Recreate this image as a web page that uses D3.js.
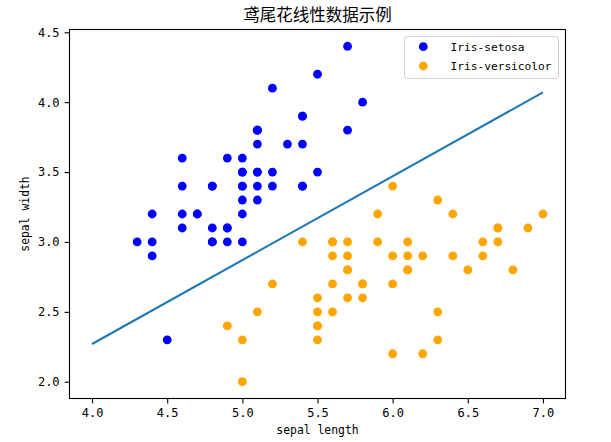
<!DOCTYPE html>
<html>
<head>
<meta charset="utf-8">
<script src="https://cdn.jsdelivr.net/npm/d3@7"></script>
<style>
  html, body { margin: 0; padding: 0; background: #fff; }
  svg { display: block; }
  .mono { font-family: "DejaVu Sans Mono", "Liberation Mono", monospace; }
</style>
</head>
<body>
<svg id="chart" width="611" height="442"></svg>
<script>
const title = '鸢尾花线性数据示例';
const xLabel = 'sepal length';
const yLabel = 'sepal width';
const seriesNames = ['Iris-setosa', 'Iris-versicolor'];
const seriesColors = ['blue', 'orange'];

const setosaX = [5.1,4.9,4.7,4.6,5.0,5.4,4.6,5.0,4.4,4.9,5.4,4.8,4.8,4.3,5.8,5.7,5.4,5.1,5.7,5.1,
                 5.4,5.1,4.6,5.1,4.8,5.0,5.0,5.2,5.2,4.7,4.8,5.4,5.2,5.5,4.9,5.0,5.5,4.9,4.4,5.1,
                 5.0,4.5,4.4,5.0,5.1,4.8,5.1,4.6,5.3,5.0];
const setosaY = [3.5,3.0,3.2,3.1,3.6,3.9,3.4,3.4,2.9,3.1,3.7,3.4,3.0,3.0,4.0,4.4,3.9,3.5,3.8,3.8,
                 3.4,3.7,3.6,3.3,3.4,3.0,3.4,3.5,3.4,3.2,3.1,3.4,4.1,4.2,3.1,3.2,3.5,3.6,3.0,3.4,
                 3.5,2.3,3.2,3.5,3.8,3.0,3.8,3.2,3.7,3.3];
const versicolorX = [7.0,6.4,6.9,5.5,6.5,5.7,6.3,4.9,6.6,5.2,5.0,5.9,6.0,6.1,5.6,6.7,5.6,5.8,6.2,5.6,
                     5.9,6.1,6.3,6.1,6.4,6.6,6.8,6.7,6.0,5.7,5.5,5.5,5.8,6.0,5.4,6.0,6.7,6.3,5.6,5.5,
                     5.5,6.1,5.8,5.0,5.6,5.7,5.7,6.2,5.1,5.7];
const versicolorY = [3.2,3.2,3.1,2.3,2.8,2.8,3.3,2.4,2.9,2.7,2.0,3.0,2.2,2.9,2.9,3.1,3.0,2.7,2.2,2.5,
                     3.2,2.8,2.5,2.8,2.9,3.0,2.8,3.0,2.9,2.6,2.4,2.4,2.7,2.7,3.0,3.4,3.1,2.3,3.0,2.5,
                     2.6,3.0,2.6,2.3,2.7,3.0,2.9,2.9,2.5,2.8];
const lineX = [4.0, 7.0];
const lineY = [2.27, 4.07];
const xTicks = [4.0, 4.5, 5.0, 5.5, 6.0, 6.5, 7.0];
const yTicks = [2.0, 2.5, 3.0, 3.5, 4.0, 4.5];

const svg = d3.select('#chart');
const plot = { left: 69.5, right: 565.5, top: 29.5, bottom: 398.5 };
const monoSize = 11.4;

const x = d3.scaleLinear().domain([3.85, 7.15]).range([plot.left, plot.right]);
const y = d3.scaleLinear().domain([1.88, 4.52]).range([plot.bottom, plot.top]);

const series = [
  { xs: setosaX, ys: setosaY },
  { xs: versicolorX, ys: versicolorY }
];

// points
series.forEach((s, k) => {
  svg.append('g').selectAll('circle')
    .data(s.xs.map((v, i) => [v, s.ys[i]]))
    .enter()
    .append('circle')
    .attr('cx', d => x(d[0]))
    .attr('cy', d => y(d[1]))
    .attr('r', 4.4)
    .attr('fill', seriesColors[k]);
});

// decision line
svg.append('path')
  .datum(lineX.map((v, i) => [v, lineY[i]]))
  .attr('d', d3.line().x(d => x(d[0])).y(d => y(d[1])))
  .attr('fill', 'none')
  .attr('stroke', '#1f77b4')
  .attr('stroke-width', 2.1);

// axes
const xAxis = svg.append('g')
  .attr('transform', `translate(0,${plot.bottom})`)
  .call(d3.axisBottom(x).tickValues(xTicks).tickFormat(d3.format('.1f')).tickSize(4.9).tickPadding(5));
const yAxis = svg.append('g')
  .attr('transform', `translate(${plot.left},0)`)
  .call(d3.axisLeft(y).tickValues(yTicks).tickFormat(d3.format('.1f')).tickSize(4.9).tickPadding(5));

[xAxis, yAxis].forEach(a => {
  a.select('.domain').remove();
  a.selectAll('.tick line').attr('stroke', '#000').attr('stroke-width', 1.1);
  a.selectAll('.tick text')
    .attr('class', 'mono')
    .attr('font-size', 12)
    .attr('fill', '#000');
});

// frame
svg.append('rect')
  .attr('x', plot.left).attr('y', plot.top)
  .attr('width', plot.right - plot.left).attr('height', plot.bottom - plot.top)
  .attr('fill', 'none').attr('stroke', '#000').attr('stroke-width', 1.1);

// title and labels
svg.append('text')
  .attr('x', (plot.left + plot.right) / 2).attr('y', 21)
  .attr('text-anchor', 'middle')
  .attr('font-family', '"Noto Sans CJK SC", sans-serif')
  .attr('font-size', 16.5)
  .text(title);

svg.append('text')
  .attr('class', 'mono')
  .attr('x', (plot.left + plot.right) / 2).attr('y', 434)
  .attr('text-anchor', 'middle')
  .attr('font-size', monoSize)
  .text(xLabel);

svg.append('text')
  .attr('class', 'mono')
  .attr('transform', `translate(29,${(plot.top + plot.bottom) / 2}) rotate(-90)`)
  .attr('text-anchor', 'middle')
  .attr('font-size', monoSize)
  .text(yLabel);

// legend
const legend = svg.append('g');
legend.append('rect')
  .attr('x', 404.5).attr('y', 36.5)
  .attr('width', 154).attr('height', 42)
  .attr('rx', 3)
  .attr('fill', '#fff').attr('fill-opacity', 0.8)
  .attr('stroke', '#d0d0d0').attr('stroke-width', 1);

seriesNames.forEach((name, k) => {
  const row = legend.append('g').attr('transform', `translate(0,${46.7 + k * 19.3})`);
  row.append('circle').attr('cx', 423.3).attr('cy', 0).attr('r', 4.4).attr('fill', seriesColors[k]);
  row.append('text')
    .attr('class', 'mono')
    .attr('x', 450.5).attr('y', 4.2)
    .attr('font-size', 11.2)
    .text(name);
});
</script>
</body>
</html>
